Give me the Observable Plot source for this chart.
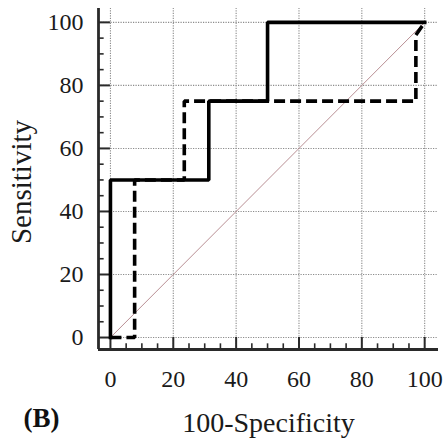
<!DOCTYPE html>
<html>
<head>
<meta charset="utf-8">
<script src="https://cdn.jsdelivr.net/npm/d3@7"></script>
<script src="https://cdn.jsdelivr.net/npm/@observablehq/plot@0.6"></script>
<style>
  html, body { margin: 0; padding: 0; background: #fff; }
  svg { display: block; }
</style>
</head>
<body>
<div id="chart"></div>
<script>
// ROC curve A (solid)
const solidFpr = [0, 0, 31.3, 31.3, 50, 50, 100];
const solidTpr = [0, 50, 50, 75, 75, 100, 100];
// ROC curve B (dashed)
const dashFpr = [0, 7.7, 7.7, 23.5, 23.5, 97.2, 97.2, 100];
const dashTpr = [0, 0, 50, 50, 75, 75, 96, 100];
// reference diagonal
const diagX = [0, 100];
const diagY = [0, 100];
// ticks
const majorTicks = [0, 20, 40, 60, 80, 100];
const minorTicks = [5, 10, 15, 25, 30, 35, 45, 50, 55, 65, 70, 75, 85, 90, 95];
const xTitle = "100-Specificity";
const yTitle = "Sensitivity";
const panelLabel = "(B)";

const lo = -3.8, hi = 104.4, minorLen = 1.8;
const zip = (xs, ys) => xs.map((x, i) => ({x, y: ys[i]}));
const font = "Liberation Serif";

const chart = Plot.plot({
  width: 446,
  height: 444,
  marginLeft: 98,
  marginRight: 8,
  marginTop: 8,
  marginBottom: 95,
  style: {fontFamily: font, background: "#fff", color: "#222"},
  x: {domain: [lo, hi], axis: null},
  y: {domain: [lo, hi], axis: null},
  marks: [
    // dotted grid
    Plot.ruleX(majorTicks, {x: d => d, y1: lo, y2: hi, stroke: "#8c8c8c", strokeWidth: 1.1, strokeDasharray: "1.2,1.3"}),
    Plot.ruleY(majorTicks, {y: d => d, x1: lo, x2: hi, stroke: "#8c8c8c", strokeWidth: 1.1, strokeDasharray: "1.2,1.3"}),
    // axis lines
    Plot.ruleX([lo], {stroke: "#2a2a2a", strokeWidth: 2.8, y1: lo, y2: hi}),
    Plot.ruleY([lo], {stroke: "#2a2a2a", strokeWidth: 2.8, x1: lo, x2: hi}),
    // major ticks (inward)
    Plot.ruleX(majorTicks, {x: d => d, y1: lo, y2: 0, stroke: "#2a2a2a", strokeWidth: 2}),
    Plot.ruleY(majorTicks, {y: d => d, x1: lo, x2: 0, stroke: "#2a2a2a", strokeWidth: 2}),
    // minor ticks (inward)
    Plot.ruleX(minorTicks, {x: d => d, y1: lo, y2: lo + minorLen, stroke: "#2a2a2a", strokeWidth: 1.6}),
    Plot.ruleY(minorTicks, {y: d => d, x1: lo, x2: lo + minorLen, stroke: "#2a2a2a", strokeWidth: 1.6}),
    // diagonal
    Plot.line(zip(diagX, diagY), {x: "x", y: "y", stroke: "#b98f94", strokeWidth: 1}),
    // dashed curve
    Plot.line(zip(dashFpr, dashTpr), {x: "x", y: "y", stroke: "#000", strokeWidth: 3.6, strokeDasharray: "11,5", strokeLinejoin: "miter", strokeLinecap: "butt"}),
    // solid curve
    Plot.line(zip(solidFpr, solidTpr), {x: "x", y: "y", stroke: "#000", strokeWidth: 3.6, strokeLinejoin: "miter", strokeLinecap: "square"}),
    // tick labels
    Plot.text(majorTicks, {x: d => d, text: d => String(d), frameAnchor: "bottom", lineAnchor: "middle", dy: 30, fontSize: 24, fill: "#1a1a1a"}),
    Plot.text(majorTicks, {y: d => d, text: d => String(d), frameAnchor: "left", lineAnchor: "middle", dx: -15, textAnchor: "end", fontSize: 24, fill: "#1a1a1a"}),
    // axis titles
    Plot.text([xTitle], {text: d => d, frameAnchor: "bottom", lineAnchor: "middle", dy: 74, fontSize: 28, fill: "#1a1a1a"}),
    Plot.text([yTitle], {text: d => d, frameAnchor: "left", lineAnchor: "middle", textAnchor: "middle", dx: -77, dy: 3, rotate: -90, fontSize: 29, fill: "#1a1a1a"}),
    Plot.text([panelLabel], {text: d => d, frameAnchor: "bottom-left", lineAnchor: "middle", textAnchor: "middle", dx: -57, dy: 69, fontSize: 27, fontWeight: "bold", fill: "#111"})
  ]
});

document.getElementById("chart").appendChild(chart);
</script>
</body>
</html>
